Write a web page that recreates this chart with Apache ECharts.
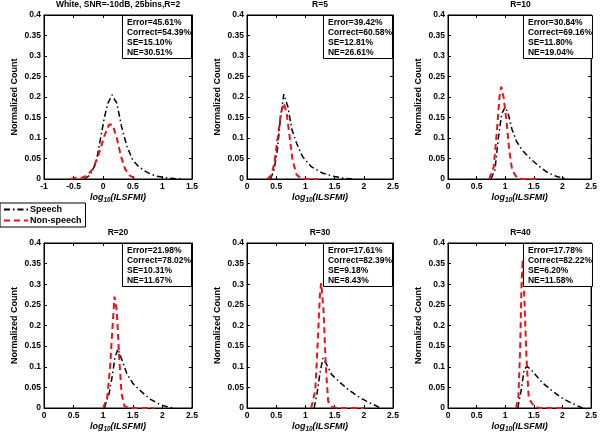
<!DOCTYPE html>
<html>
<head>
<meta charset="utf-8">
<script src="https://cdn.jsdelivr.net/npm/echarts@6/dist/echarts.min.js"></script>
<style>
html,body{margin:0;padding:0;background:#fff;}
#chart{width:600px;height:434px;}
</style>
</head>
<body>
<div id="chart"></div>
<script>
// Panel titles and statistics
const panelTitles = ['White, SNR=-10dB, 25bins,R=2', 'R=5', 'R=10', 'R=20', 'R=30', 'R=40'];
const errorPct   = ['45.61', '39.42', '30.84', '21.98', '17.61', '17.78'];
const correctPct = ['54.39', '60.58', '69.16', '78.02', '82.39', '82.22'];
const sePct      = ['15.10', '12.81', '11.80', '10.31', '9.18', '6.20'];
const nePct      = ['30.51', '26.61', '19.04', '11.67', '8.43', '11.58'];
const xMins = [-1, 0, 0, 0, 0, 0];
const xMaxs = [1.5, 2.5, 2.5, 2.5, 2.5, 2.5];

// Speech curves [log10(ILSFMI), normalized count]
const speechR2  = [[-0.32,0],[-0.22,0.01],[-0.12,0.04],[-0.05,0.095],[0.02,0.15],[0.08,0.185],[0.15,0.205],[0.23,0.185],[0.31,0.128],[0.4,0.08],[0.5,0.046],[0.6,0.03],[0.7,0.02],[0.8,0.012],[0.9,0.007],[1.05,0.003],[1.2,0.001],[1.35,0]];
const speechR5  = [[0.4,0],[0.46,0.02],[0.52,0.07],[0.57,0.144],[0.63,0.207],[0.7,0.176],[0.77,0.12],[0.85,0.087],[0.95,0.055],[1.1,0.03],[1.3,0.014],[1.5,0.006],[1.65,0.002],[1.8,0]];
const speechR10 = [[0.75,0],[0.82,0.022],[0.88,0.1],[0.94,0.16],[1.0,0.175],[1.05,0.16],[1.12,0.12],[1.2,0.091],[1.3,0.07],[1.45,0.048],[1.6,0.03],[1.75,0.015],[1.9,0.006],[2.05,0.001],[2.1,0]];
const speechR20 = [[1.02,0],[1.1,0.035],[1.15,0.075],[1.2,0.123],[1.25,0.143],[1.3,0.123],[1.4,0.083],[1.5,0.06],[1.65,0.039],[1.8,0.021],[1.95,0.009],[2.1,0.002],[2.2,0]];
const speechR30 = [[1.15,0],[1.2,0.036],[1.25,0.085],[1.3,0.121],[1.35,0.109],[1.45,0.081],[1.6,0.061],[1.75,0.043],[1.9,0.028],[2.05,0.016],[2.2,0.006],[2.28,0]];
const speechR40 = [[1.22,0],[1.28,0.044],[1.33,0.093],[1.38,0.101],[1.45,0.093],[1.55,0.077],[1.65,0.061],[1.8,0.044],[1.95,0.028],[2.1,0.016],[2.25,0.006],[2.35,0]];

// Non-speech curves
const nonSpeechR2  = [[-0.55,0],[-0.47,0.003],[-0.38,0.002],[-0.28,0.008],[-0.17,0.025],[-0.07,0.063],[0.02,0.105],[0.1,0.133],[0.16,0.132],[0.23,0.1],[0.3,0.055],[0.37,0.024],[0.45,0.008],[0.55,0.001]];
const nonSpeechR5  = [[0.35,0],[0.42,0.01],[0.47,0.04],[0.52,0.095],[0.58,0.16],[0.63,0.185],[0.68,0.16],[0.73,0.103],[0.78,0.046],[0.85,0.01],[0.92,0.002],[1.0,0],[1.2,0]];
const nonSpeechR10 = [[0.72,0],[0.8,0.03],[0.85,0.11],[0.9,0.2],[0.93,0.225],[0.97,0.2],[1.02,0.144],[1.07,0.07],[1.12,0.022],[1.2,0.004],[1.3,0],[1.6,0]];
const nonSpeechR20 = [[1.0,0],[1.07,0.027],[1.12,0.107],[1.16,0.203],[1.19,0.27],[1.23,0.235],[1.27,0.123],[1.31,0.035],[1.36,0.004],[1.45,0],[1.85,0]];
const nonSpeechR30 = [[1.1,0],[1.17,0.044],[1.21,0.158],[1.25,0.279],[1.27,0.303],[1.31,0.238],[1.35,0.1],[1.39,0.016],[1.45,0.003],[1.55,0],[2.0,0]];
const nonSpeechR40 = [[1.19,0],[1.23,0.028],[1.26,0.141],[1.285,0.303],[1.305,0.36],[1.335,0.263],[1.37,0.125],[1.41,0.024],[1.5,0.004],[1.6,0],[2.0,0]];

const speechSets = [speechR2, speechR5, speechR10, speechR20, speechR30, speechR40];
const nonSpeechSets = [nonSpeechR2, nonSpeechR5, nonSpeechR10, nonSpeechR20, nonSpeechR30, nonSpeechR40];

const FONT = '"Liberation Sans", Arial, sans-serif';
const cols = [{left:44,width:148},{left:247,width:146},{left:448,width:145}];
const rows = [{top:15,height:164},{top:243,height:165}];

const grids = [], xAxes = [], yAxes = [], series = [], titles = [];
for (let i = 0; i < 6; i++) {
  const c = cols[i % 3], r = rows[Math.floor(i / 3)];
  grids.push({left:c.left, top:r.top, width:c.width, height:r.height, show:true, borderColor:'#000', borderWidth:1, backgroundColor:'#fff'});
  const xBase = {
    type:'value', gridIndex:i, min:xMins[i], max:xMaxs[i], interval:0.5,
    splitLine:{show:false},
    axisLine:{show:true, onZero:false, lineStyle:{color:'#000', width:1}},
    axisTick:{show:true, inside:true, length:3, lineStyle:{color:'#000'}}
  };
  xAxes.push(Object.assign({}, xBase, {
    position:'bottom',
    axisLabel:{show:true, margin:3, color:'#000', fontSize:8.5, fontWeight:'bold', fontFamily:FONT},
    name:'{a|log}{s|10}{a|(ILSFMI)}', nameLocation:'middle', nameGap:12,
    nameTextStyle:{rich:{
      a:{fontSize:9, fontWeight:'bold', fontStyle:'italic', color:'#000', fontFamily:FONT},
      s:{fontSize:6.5, fontWeight:'bold', fontStyle:'italic', color:'#000', fontFamily:FONT, verticalAlign:'bottom', padding:[6,0,0,0]}
    }}
  }));
  xAxes.push(Object.assign({}, xBase, {position:'top', axisLabel:{show:false}}));
  const yBase = {
    type:'value', gridIndex:i, min:0, max:0.4, interval:0.05,
    splitLine:{show:false},
    axisLine:{show:true, onZero:false, lineStyle:{color:'#000', width:1}},
    axisTick:{show:true, inside:true, length:3, lineStyle:{color:'#000'}}
  };
  yAxes.push(Object.assign({}, yBase, {
    position:'left',
    axisLabel:{show:true, margin:3, color:'#000', fontSize:8.5, fontWeight:'bold', fontFamily:FONT},
    name:'Normalized Count', nameLocation:'middle', nameGap:25, nameRotate:90,
    nameTextStyle:{fontSize:9, fontWeight:'bold', color:'#000', fontFamily:FONT}
  }));
  yAxes.push(Object.assign({}, yBase, {position:'right', axisLabel:{show:false}}));

  series.push({
    name:'Speech', type:'line', xAxisIndex:2*i, yAxisIndex:2*i, data:speechSets[i],
    symbol:'none', showSymbol:false, smooth:false, animation:false,
    lineStyle:{color:'#000', width:1.5, type:[6,3,1.5,3]}, itemStyle:{color:'#000'}, z:2
  });
  series.push({
    name:'Non-speech', type:'line', xAxisIndex:2*i, yAxisIndex:2*i, data:nonSpeechSets[i],
    symbol:'none', showSymbol:false, smooth:false, animation:false,
    lineStyle:{color:'#e8141a', width:2, type:[6,4]}, itemStyle:{color:'#e8141a'}, z:3
  });

  titles.push({
    text:panelTitles[i], left:c.left + c.width / 2, textAlign:'center', top:r.top - 15, padding:0,
    textStyle:{fontSize:8.5, fontWeight:'bold', color:'#000', fontFamily:FONT}
  });
  titles.push({
    text:'Error=' + errorPct[i] + '%\nCorrect=' + correctPct[i] + '%\nSE=' + sePct[i] + '%\nNE=' + nePct[i] + '%',
    right:600 - (c.left + c.width), top:r.top, padding:[3,1,1,5],
    borderColor:'#000', borderWidth:1, backgroundColor:'#fff',
    textStyle:{fontSize:8.5, fontWeight:'bold', color:'#000', fontFamily:FONT, lineHeight:10}
  });
}

const chart = echarts.init(document.getElementById('chart'), null, {renderer:'canvas'});
chart.setOption({
  backgroundColor:'#fff',
  animation:false,
  title:titles,
  legend:{
    data:['Speech','Non-speech'], orient:'vertical', left:0, top:203,
    itemWidth:24, itemHeight:10, itemGap:2, padding:[2,4,2,3],
    borderColor:'#000', borderWidth:1, backgroundColor:'#fff',
    itemStyle:{opacity:0},
    textStyle:{fontSize:9, fontWeight:'bold', color:'#000', fontFamily:FONT, padding:[0,0,0,-3]}
  },
  grid:grids, xAxis:xAxes, yAxis:yAxes, series:series
});
</script>
</body>
</html>
